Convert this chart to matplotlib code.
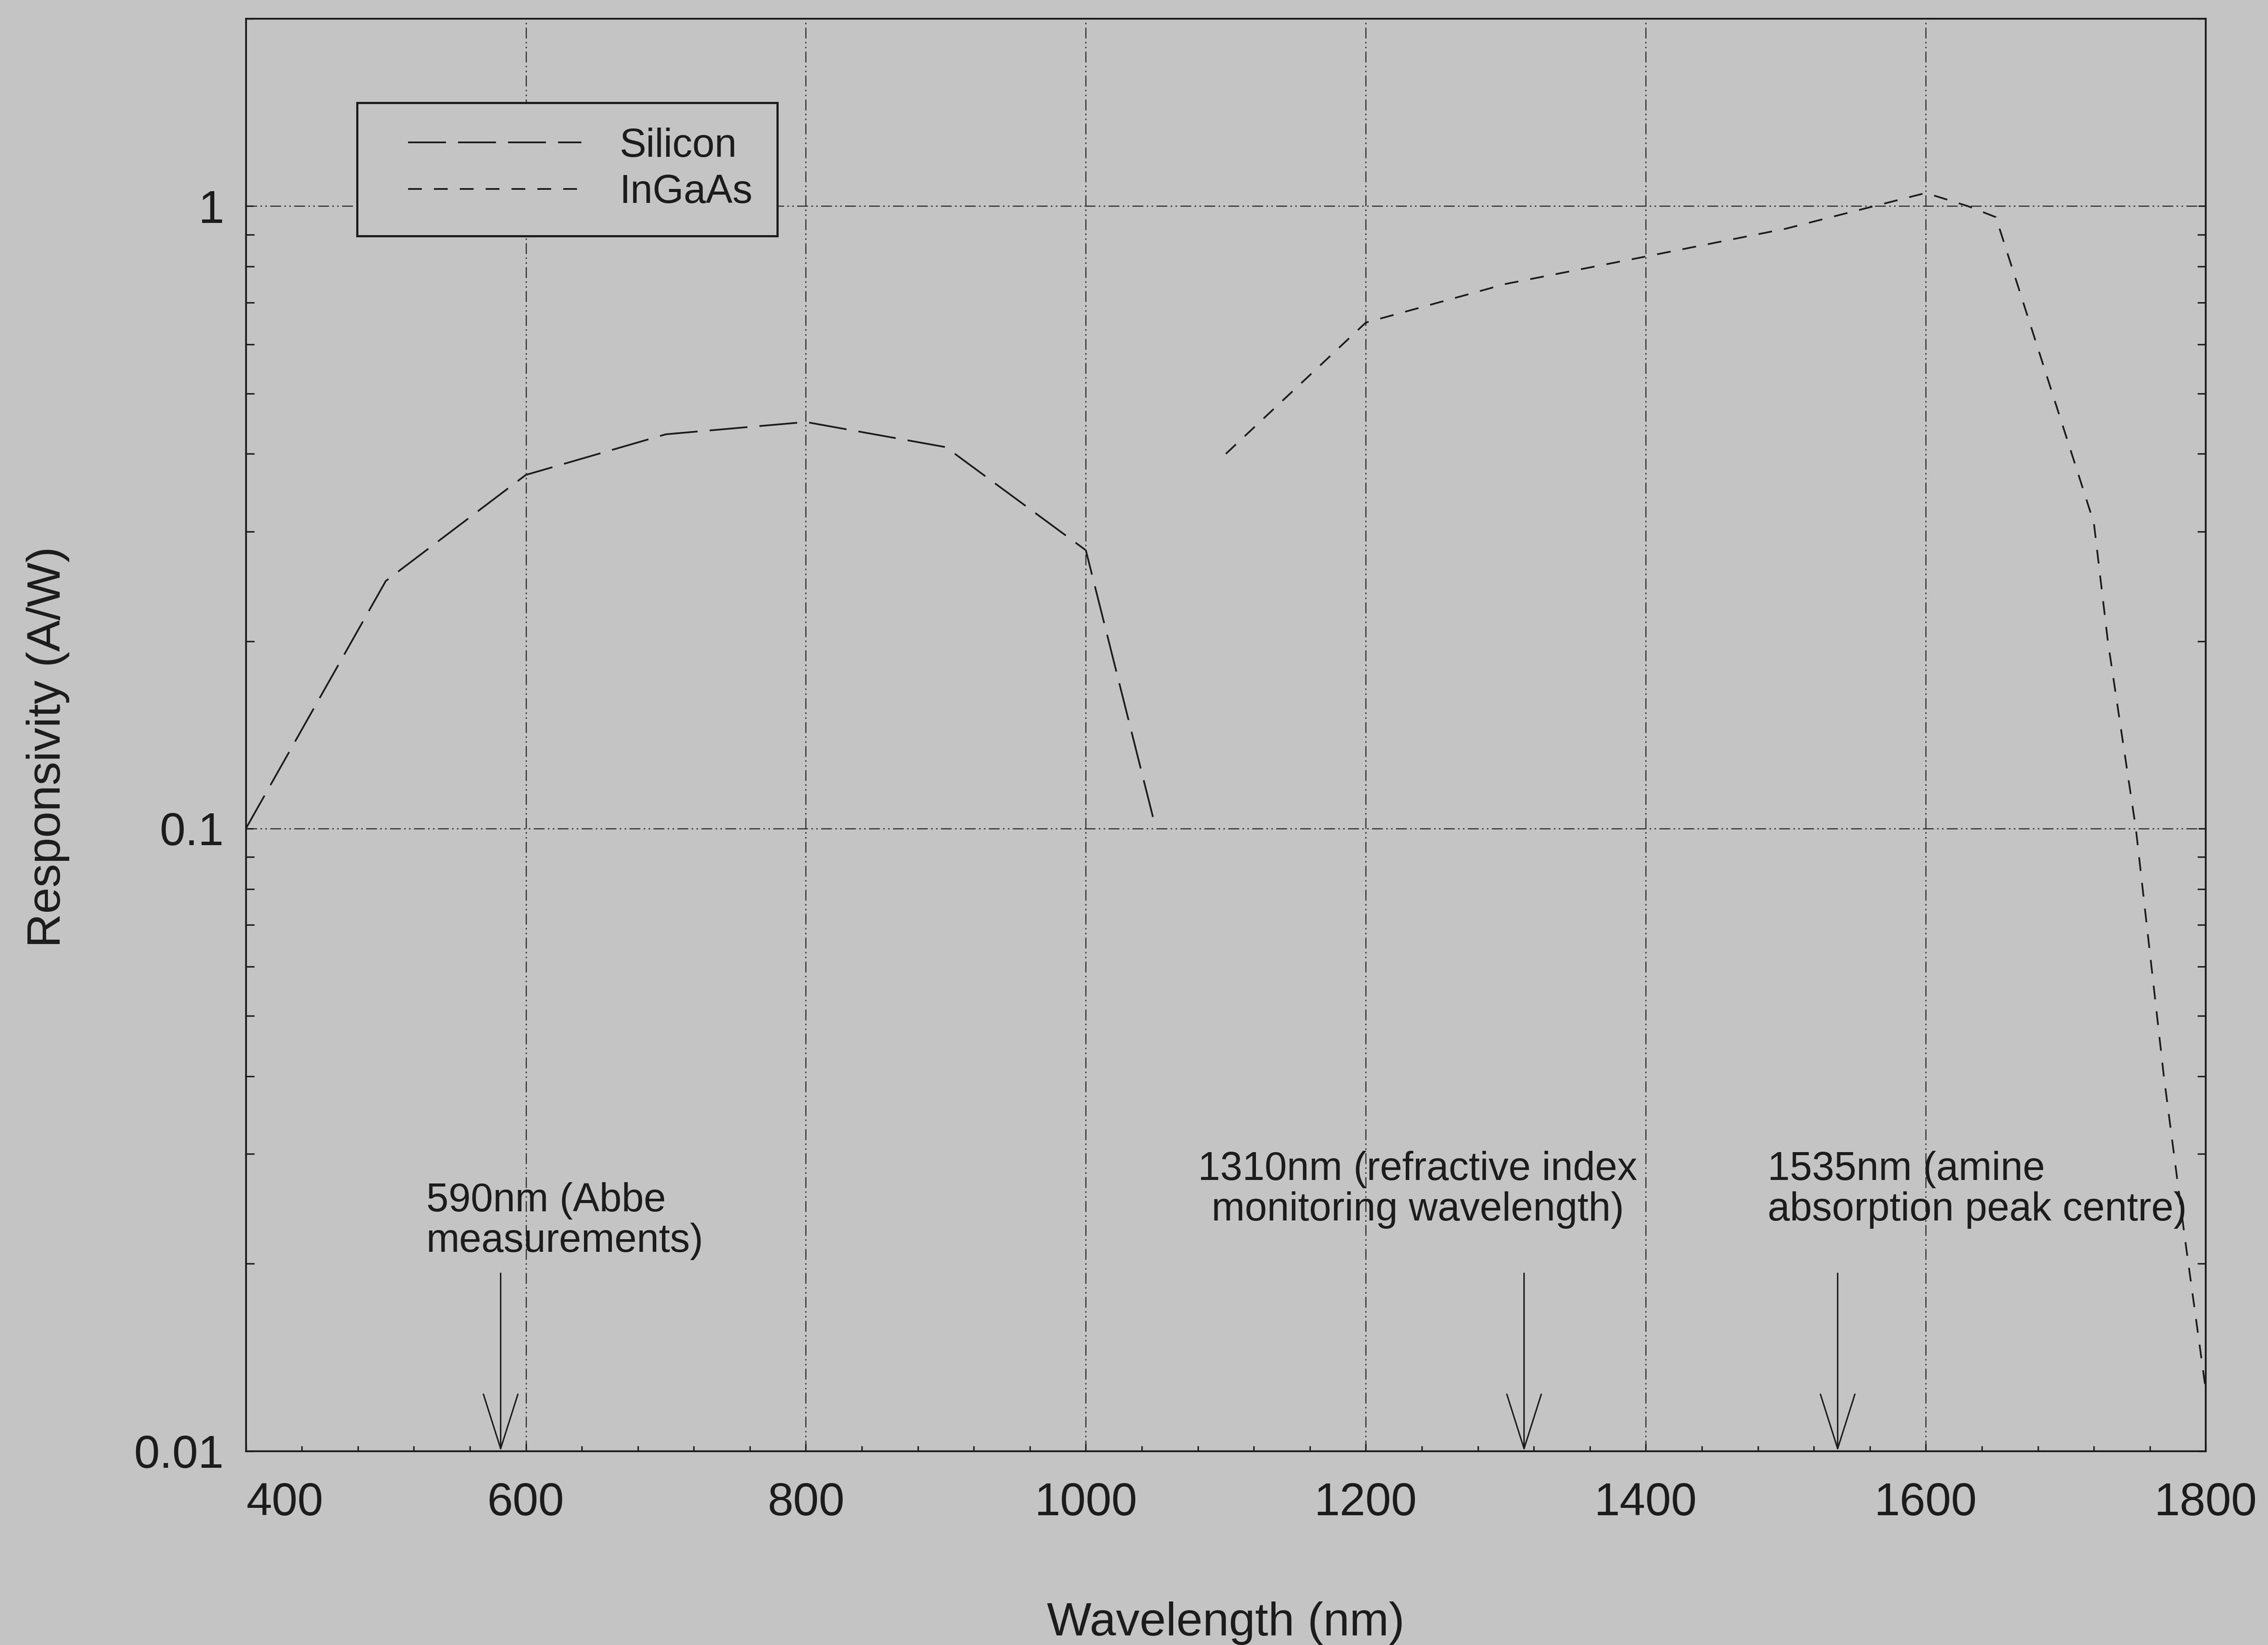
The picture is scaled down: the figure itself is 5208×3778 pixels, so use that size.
import matplotlib.pyplot as plt
import matplotlib.transforms as mtransforms
from matplotlib.legend_handler import HandlerLine2D
from matplotlib.ticker import FixedLocator, MultipleLocator, LogLocator, NullFormatter

plt.rcParams['font.family'] = ['Liberation Sans', 'DejaVu Sans']

# Silicon photodiode responsivity (A/W)
si_wl = [400, 500, 600, 700, 800, 900, 1000, 1050]
si_resp = [0.1, 0.25, 0.37, 0.43, 0.45, 0.41, 0.28, 0.1]

# InGaAs photodiode responsivity (A/W)
ingaas_wl = [1100, 1200, 1300, 1400, 1500, 1600, 1630, 1650, 1720, 1730, 1750, 1770, 1785, 1800]
ingaas_resp = [0.40, 0.65, 0.75, 0.83, 0.92, 1.05, 1.0, 0.96, 0.31, 0.20, 0.10, 0.040, 0.022, 0.0125]

# marked wavelengths (arrow position as drawn) and their notes
mark_wl = [582, 1313, 1537]
mark_text = ["590nm (Abbe\nmeasurements)",
             "1310nm (refractive index\nmonitoring wavelength)",
             "1535nm (amine\nabsorption peak centre)"]

xticks = [400, 600, 800, 1000, 1200, 1400, 1600, 1800]
yticks = [0.01, 0.1, 1]
yticklabels = ['0.01', '0.1', '1']

bg = '#c4c4c4'
ink = '#1c1c1c'

fig = plt.figure(figsize=(5208 / 300, 3778 / 300), dpi=300, facecolor=bg)
ax = fig.add_axes([0.1084, 0.1179, 0.8642, 0.8707], facecolor=bg)

l_si, = ax.plot(si_wl, si_resp, color=ink, lw=0.95, dashes=(22, 7), label='Silicon')
l_in, = ax.plot(ingaas_wl, ingaas_resp, color=ink, lw=0.95, dashes=(8, 7), label='InGaAs')

ax.set_yscale('log')
ax.set_xlim(400, 1800)
ax.set_ylim(0.01, 2)

ax.xaxis.set_major_locator(FixedLocator(xticks))
ax.xaxis.set_minor_locator(MultipleLocator(40))
ax.yaxis.set_major_locator(FixedLocator(yticks))
ax.set_yticklabels(yticklabels)
ax.yaxis.set_minor_locator(LogLocator(subs=[2, 3, 4, 5, 6, 7, 8, 9]))
ax.yaxis.set_minor_formatter(NullFormatter())

ax.tick_params(which='both', direction='in', top=False, right=True, color=ink, width=0.8)
ax.tick_params(axis='x', which='minor', length=3)
ax.tick_params(axis='y', which='minor', length=4.5)
ax.tick_params(which='major', length=4)
ax.tick_params(axis='x', labelsize=25.5, pad=17, labelcolor=ink)
ax.tick_params(axis='y', labelsize=25.5, pad=12, labelcolor=ink)

for s in ax.spines.values():
    s.set_color(ink)
    s.set_linewidth(1.0)

ax.grid(True, which='major', color='#2a2a2a', linewidth=0.6,
        linestyle=(0, (10, 3, 1.5, 3, 1.5, 3)))

# shift the "400" label right as in the original
lab = ax.xaxis.get_major_ticks()[0].label1
lab.set_transform(lab.get_transform() +
                  mtransforms.ScaledTranslation(0.3, 0, fig.dpi_scale_trans))

ax.set_xlabel('Wavelength (nm)', fontsize=26, color=ink)
ax.xaxis.set_label_coords(0.1084 + 0.8642 / 2, 0.0265, transform=fig.transFigure)
ax.set_ylabel('Responsivity (A/W)', fontsize=26, color=ink)
ax.yaxis.set_label_coords(0.0307, 0.546, transform=fig.transFigure)

# arrows and notes
text_pos = [(529, 0.0234, 'left'), (1237, 0.0263, 'center'), (1487, 0.0263, 'left')]
for wl, txt, (tx, ty, ha) in zip(mark_wl, mark_text, text_pos):
    ax.annotate('', xy=(wl, 0.01), xytext=(wl, 0.0193),
                arrowprops=dict(arrowstyle='->,head_length=3.0,head_width=0.95',
                                mutation_scale=10, lw=0.8, color=ink,
                                shrinkA=0, shrinkB=0))
    ax.text(tx, ty, txt, ha=ha, va='center', fontsize=22, color=ink, linespacing=1.1)

pad_handler = HandlerLine2D(xpad=0.65)
leg = ax.legend(loc='upper left', bbox_to_anchor=(0.1575, 0.9376),
                bbox_transform=fig.transFigure, fontsize=22, frameon=True,
                fancybox=False, facecolor=bg, edgecolor=ink, framealpha=1,
                handlelength=5.0, handletextpad=0.95, borderpad=0.62,
                labelspacing=0.22, borderaxespad=0,
                handler_map={l_si: pad_handler, l_in: pad_handler})
leg.get_frame().set_linewidth(1.2)
for t in leg.get_texts():
    t.set_color(ink)

fig.savefig('out.png', dpi=300, facecolor=bg)
